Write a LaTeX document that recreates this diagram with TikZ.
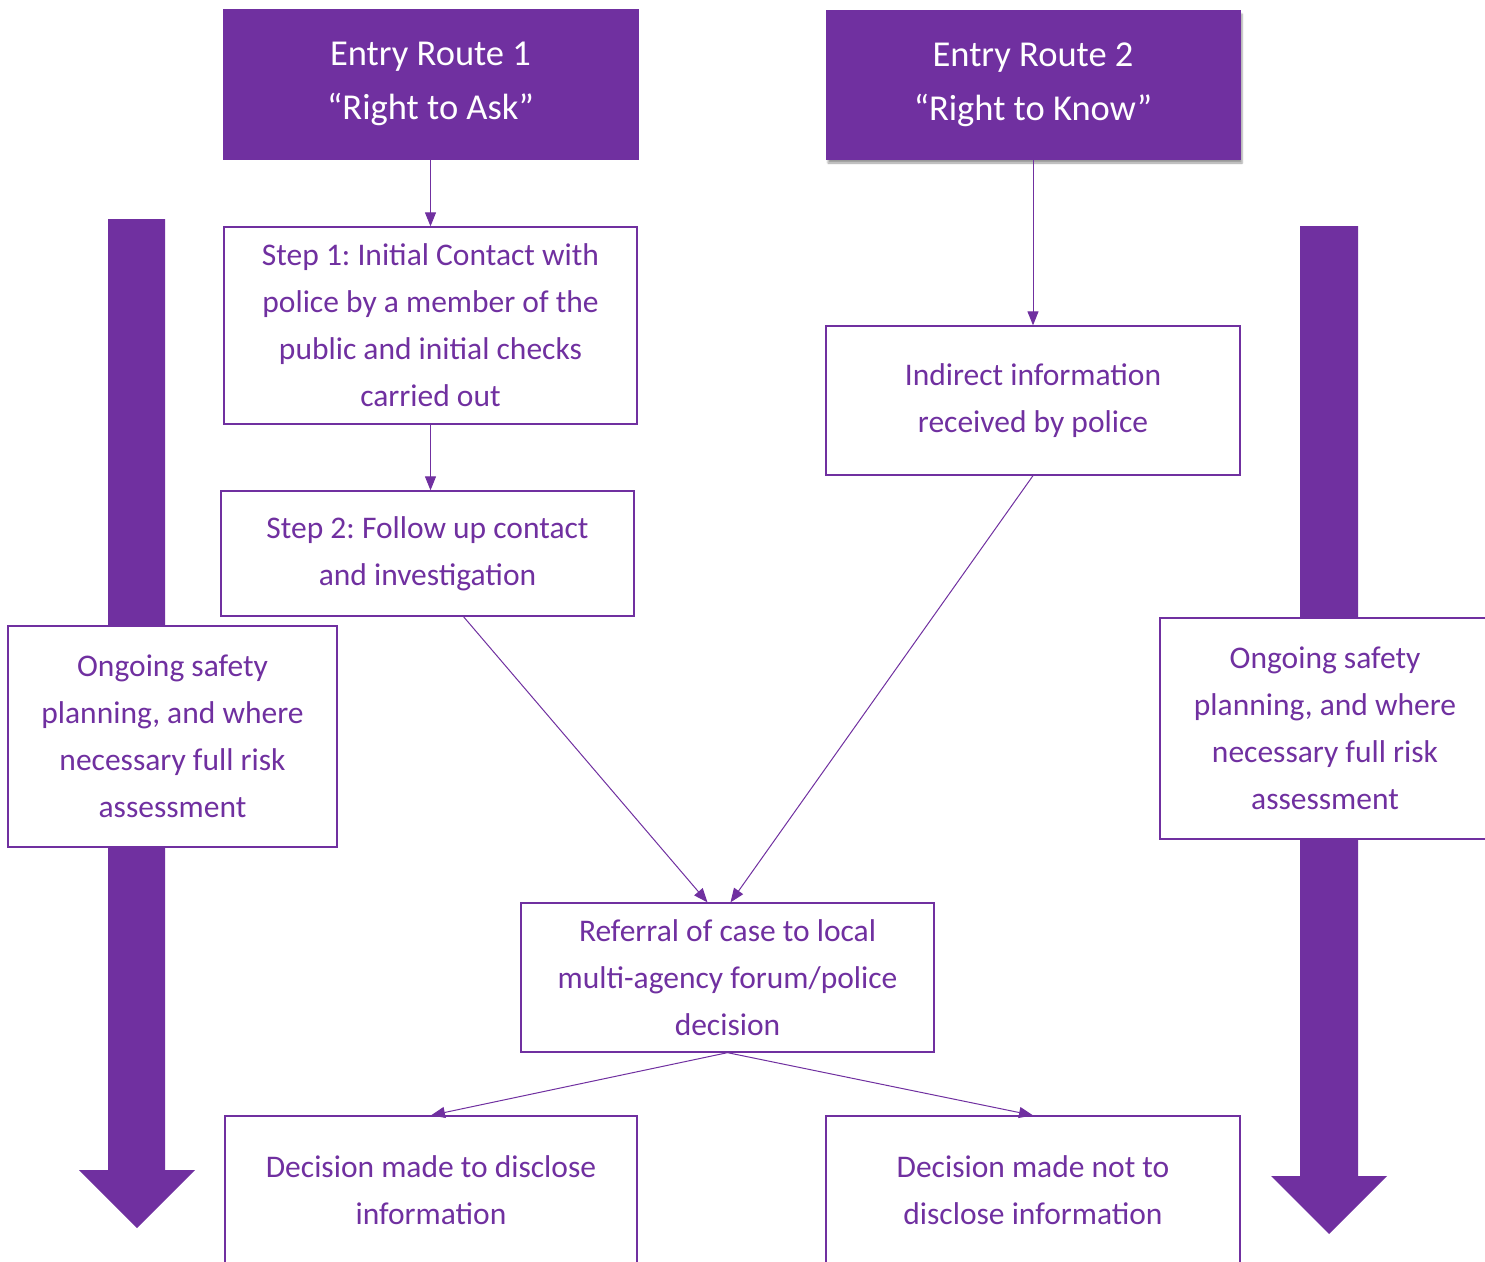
\documentclass[tikz,border=0pt]{standalone}
\usepackage{fontspec}
\setmainfont{Carlito}
\frenchspacing
\usetikzlibrary{arrows.meta,shadows.blur}
\definecolor{routepurple}{HTML}{7030A0}
\tikzset{
  route/.style={fill=routepurple,draw=routepurple,text=white,inner sep=0pt,align=center,
    font=\fontsize{36.5}{54}\selectfont},
  stepbox/.style={draw=routepurple,fill=white,line width=1.3pt,text=routepurple,inner sep=0pt,
    align=center,font=\fontsize{31.5}{47}\selectfont},
  link/.style={draw=routepurple,line width=1pt,-{Triangle[length=14pt,width=11pt]}},
  bigarrow/.style={fill=routepurple}
}
\begin{document}
\begin{tikzpicture}[x=1pt,y=-1pt]
      \useasboundingbox (0,0) rectangle (1485,1261);
      \clip (0,0) rectangle (1485,1261);
      % big arrows behind the ongoing boxes
      \fill[bigarrow] (108,219) -- (165,219) -- (165,1170) -- (195,1170) -- (137,1228)
        -- (79,1170) -- (108,1170) -- cycle;
      \fill[bigarrow] (1300,226) -- (1358,226) -- (1358,1176) -- (1387,1176) -- (1329,1234)
        -- (1271,1176) -- (1300,1176) -- cycle;
      % entry routes
      \node[route,minimum width=415pt,minimum height=150pt] (entry1) at (430.5,84)
        {Entry Route 1\\“Right to Ask”};
      \node[route,minimum width=414pt,minimum height=149pt,
        blur shadow={shadow xshift=2pt,shadow yshift=-4pt,shadow opacity=40}] (entry2) at (1033,84.5)
        {Entry Route 2\\“Right to Know”};
      % steps
      \node[stepbox,minimum width=413pt,minimum height=197pt] (step1) at (430.5,325.5)
        {\raisebox{-3pt}{\parbox{413pt}{\centering Step 1: Initial Contact with\\police by a member of the\\public and initial checks\\carried out}}};
      \node[stepbox,minimum width=413pt,minimum height=125pt] (step2) at (427.5,553.5)
        {Step 2: Follow up contact\\and investigation};
      \node[stepbox,minimum width=414pt,minimum height=149pt] (indirect) at (1033,400.5)
        {Indirect information\\received by police};
      \node[stepbox,minimum width=413pt,minimum height=149pt] (referral) at (727.5,977.5)
        {\raisebox{-3pt}{\parbox{413pt}{\centering Referral of case to local\\multi-agency forum/police\\decision}}};
      \node[stepbox,minimum width=412pt,minimum height=148pt] (disclose) at (431,1190)
        {Decision made to disclose\\information};
      \node[stepbox,minimum width=414pt,minimum height=148pt] (nodisclose) at (1033,1190)
        {Decision made not to\\disclose information};
      % ongoing safety planning
      \node[stepbox,minimum width=329pt,minimum height=221pt] (ongoing1) at (172.5,736.5)
        {Ongoing safety\\planning, and where\\necessary full risk\\assessment};
      \node[stepbox,minimum width=330pt,minimum height=221pt] (ongoing2) at (1325,728.5)
        {Ongoing safety\\planning, and where\\necessary full risk\\assessment};
      \begin{scope}[link]
        \draw (entry1) to (step1);
        \draw (step1.south) to (step1.south |- step2.north);
        \draw (entry2) to (indirect);
        \draw ([xshift=36pt]step2.south) to ([xshift=-20pt]referral.north);
        \draw (indirect.south) to ([xshift=3pt]referral.north);
        \draw (referral.south) to (disclose.north);
        \draw (referral.south) to (nodisclose.north);
      \end{scope}
    \end{tikzpicture}
\end{document}
